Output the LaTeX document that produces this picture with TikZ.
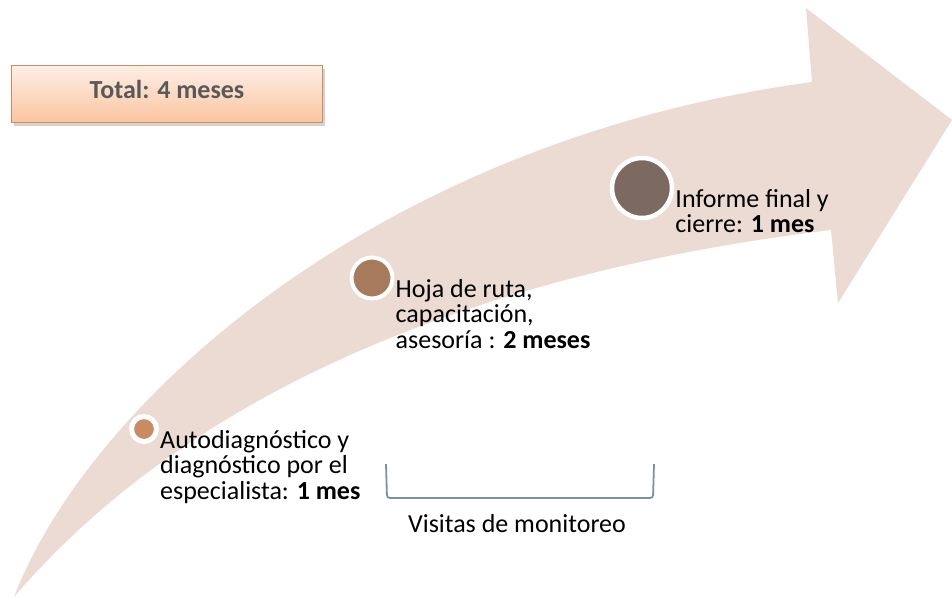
\documentclass[tikz,border=0pt]{standalone}
\usepackage{fontspec}
\setmainfont{Carlito}
\usetikzlibrary{positioning,shadows}

\definecolor{arrowbg}{HTML}{EBDBD3}
\definecolor{dotone}{HTML}{C98C62}
\definecolor{dottwo}{HTML}{A67A5B}
\definecolor{dotthree}{HTML}{7C6A60}
\definecolor{boxedge}{HTML}{D38A59}
\definecolor{boxtop}{HTML}{FEEEE6}
\definecolor{boxbot}{HTML}{FBC5A0}
\definecolor{bracketcol}{HTML}{7A91A8}
\definecolor{totalgray}{HTML}{595959}

\tikzset{
  stage/.style={circle, draw=white, inner sep=0pt},
  stagetext/.style={anchor=north west, align=left, inner sep=1pt,
    font=\fontsize{26}{25.5}\selectfont},
  bracket/.style={draw=bracketcol, line width=1.8pt, rounded corners=3pt},
}

\begin{document}
\begin{tikzpicture}[x=1pt,y=-1pt]
  \useasboundingbox (0,0) rectangle (952,597);

  %% curved arrow
  \fill[arrowbg] (14,597) .. controls (90,400) and (380,140) .. (812,82)
    -- (806,8) -- (952,120) -- (838,303) -- (831,230)
    .. controls (500,270) and (200,380) .. cycle;

  %% total
  \node[draw=boxedge, line width=1.2pt, top color=boxtop, bottom color=boxbot,
    drop shadow={opacity=0.35, shadow xshift=2pt, shadow yshift=-3pt},
    minimum width=311pt, minimum height=57pt, text=totalgray,
    text height=17pt, text depth=9pt,
    font=\fontsize{26}{28}\selectfont\bfseries] (total) at (167,94) {Total: 4 meses};

  %% stages
  \node[stage, fill=dotone, line width=5pt, minimum size=25pt] (c1) at (144,429) {};
  \node[stage, fill=dottwo, line width=4pt, minimum size=41pt] (c2) at (372,278) {};
  \node[stage, fill=dotthree, line width=4.5pt, minimum size=60pt] (c3) at (642,188) {};

  \node[stagetext] (t1) at (c1.east) {Autodiagnóstico y\\diagnóstico por el\\especialista: \textbf{1 mes}};
  \node[stagetext] (t2) at (c2.east) {Hoja de ruta,\\capacitación,\\asesoría : \textbf{2 meses}};
  \node[stagetext] (t3) at (c3.east) {Informe final y\\cierre: \textbf{1 mes}};

  %% monitoring bracket
  \coordinate (brace a) at (386,464);
  \coordinate (brace b) at (654,464);
  \draw[bracket] (brace a) -- ++(1,34) -- ++(266,0) -- (brace b);
  \node[anchor=base, font=\fontsize{26}{28}\selectfont] (visitas) at (517,532) {Visitas de monitoreo};

\end{tikzpicture}
\end{document}
